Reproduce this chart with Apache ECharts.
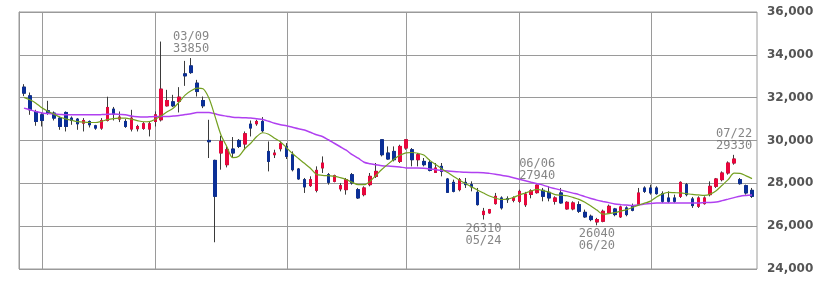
<!DOCTYPE html>
<html><head><meta charset="utf-8">
<script src="https://cdn.jsdelivr.net/npm/echarts@6/dist/echarts.min.js"></script>
<style>html,body{margin:0;padding:0;background:#fff}#c{width:828px;height:281px}</style>
</head><body><div id="c"></div>
<script>
const dates = ['01/27','01/28','01/31',
'02/01','02/02','02/03','02/04','02/07','02/08','02/09','02/10','02/11','02/14','02/15','02/16','02/17','02/18','02/21','02/22','02/24','02/25','02/28',
'03/01','03/02','03/03','03/04','03/07','03/08','03/09','03/10','03/11','03/14','03/15','03/16','03/17','03/18','03/22','03/23','03/24','03/25','03/28','03/29','03/30','03/31',
'04/01','04/04','04/05','04/06','04/07','04/08','04/11','04/12','04/13','04/14','04/15','04/18','04/19','04/20','04/21','04/22','04/25','04/26','04/27','04/28',
'05/02','05/06','05/09','05/10','05/11','05/12','05/13','05/16','05/17','05/18','05/19','05/20','05/23','05/24','05/25','05/26','05/27','05/30','05/31',
'06/01','06/02','06/03','06/06','06/07','06/08','06/09','06/10','06/13','06/14','06/15','06/16','06/17','06/20','06/21','06/22','06/23','06/24','06/27','06/28','06/29','06/30',
'07/01','07/04','07/05','07/06','07/07','07/08','07/11','07/12','07/13','07/14','07/15','07/19','07/20','07/21','07/22','07/25','07/26','07/27'];

const opens = [32491,32086,31354,31200,31387,31279,31046,31309,31046,31000,
30811,30889,30688,30578,30935,31465,31000,30889,30534,30548,
30562,30534,30889,30967,31620,31806,31822,33111,33484,32678,
31867,30003,29071,29416,28870,29602,30003,29835,30766,30780,
30889,29490,29336,29616,29724,29336,28670,28171,27892,27673,
28716,28404,28092,27738,27705,28404,27705,27472,27938,28326,
30035,29416,29490,29024,29648,29569,29103,29024,28978,28511,
28793,28204,28046,27705,28046,27938,27579,26540,26618,27053,
27318,27286,27207,27160,27000,27480,27565,27673,27579,27160,
27551,26806,26806,27006,26647,26462,26198,26229,26618,26804,
26433,26852,26960,27006,27784,27784,27784,27519,27318,27318,
27393,27938,27272,26929,27053,27472,27862,28171,28483,28949,
28171,27892,27673];

const closes = [32212,31433,30888,30935,31280,31046,30655,30655,30935,30780,
30935,30734,30578,30935,31543,31232,31093,30655,31046,30655,
30780,30780,31200,32398,31867,31620,32025,33018,33171,32286,
31620,29942,27393,29956,29569,29416,29723,30315,30580,30889,
30455,29024,29416,29849,29257,28637,28204,27831,28171,28606,
28948,28046,28358,27892,28171,28017,27318,27784,28326,28558,
29336,29136,29103,29724,30035,29103,29336,28870,28604,28716,
28558,27579,27626,28171,27938,27831,27006,26696,26773,27393,
26852,27239,27318,27626,27500,27650,27917,27393,27318,27318,
27085,27114,27085,26696,26433,26307,26307,26695,26928,26540,
26899,26540,26741,27551,27626,27551,27519,27160,27160,27160,
28046,27472,26960,27318,27318,27862,28204,28483,28949,29136,
27985,27551,27393];

const lows = [32071,31200,30688,30655,31200,30935,30500,30422,30733,30500,
30422,30609,30500,30500,30890,30935,30860,30590,30422,30422,
30500,30190,30655,30890,31587,31560,31309,32551,33111,32053,
31512,29182,25249,28637,28744,29210,29648,29569,30189,30688,
30376,28558,29182,29490,29136,28558,28171,27551,27831,27579,
28483,27938,28046,27626,27472,27938,27272,27393,27862,28250,
29257,29103,29024,28949,29569,28793,28793,28793,28558,28483,
28325,27551,27579,27626,27784,27626,26960,26310,26587,27006,
26773,27085,27114,27085,26900,27300,27519,27160,27160,27006,
27053,26773,26740,26618,26387,26229,26040,26182,26587,26462,
26387,26462,26695,26960,27551,27472,27472,27085,27085,27085,
27318,27393,26852,26852,27006,27393,27784,28092,28404,28870,
27938,27472,27318];

const highs = [32630,32240,31433,31309,31853,31356,31123,31356,31123,31046,
31046,30935,30733,31046,32044,31567,31356,31000,31433,30733,
30858,30889,31356,34620,32365,32132,32491,33717,33850,32831,
32053,30967,29103,30222,29724,30161,30068,30422,30935,30967,
31093,29956,29569,29956,29881,29490,28716,28250,28326,28793,
29257,28483,28404,28017,28250,28483,27784,27862,28483,28949,
30035,29724,29724,29802,30068,29648,29416,29182,29103,28949,
28949,28250,28171,28250,28250,28092,27784,26852,26805,27551,
27393,27393,27393,27705,27600,27720,27940,27784,27862,27393,
27784,27160,27160,27160,26773,26540,26387,26773,27006,26852,
26960,26928,27053,27784,27862,27938,27862,27626,27626,27472,
28092,28017,27365,27393,27393,28092,28250,28558,29024,29330,
28250,27938,27784];

const ma5 = [32016,31899,31745,31526,31363,31233,31097,31013,30944,30883,
30855,30841,30841,30897,30976,31023,31046,31046,30995,30930,
30875,30883,30995,31153,31340,31503,31792,32118,32318,32444,
32412,31969,31140,30268,29709,29196,29266,29616,29872,30184,
30361,30291,30105,29932,29662,29392,29159,28935,28702,28418,
28376,28353,28334,28264,28176,28045,27938,27938,28096,28376,
28656,28898,29122,29308,29420,29439,29406,29318,29072,28875,
28684,28502,28316,28148,27989,27835,27686,27546,27407,27309,
27244,27262,27337,27458,27551,27644,27714,27658,27589,27472,
27444,27421,27342,27253,27113,26936,26750,26563,26587,26633,
26703,26773,26876,26983,27076,27169,27364,27509,27579,27565,
27551,27519,27482,27458,27435,27495,27658,27910,28171,28474,
28465,28348,28218];

const ma25 = [31512,31433,31354,31284,31256,31233,31219,31200,31200,31200,
31200,31200,31200,31209,31223,31233,31214,31200,31140,31107,
31093,31107,31121,31121,31121,31140,31163,31209,31247,31307,
31307,31307,31247,31177,31135,31088,31070,31060,31046,31014,
30981,30897,30804,30734,30687,30617,30547,30487,30384,30268,
30184,30035,29872,29709,29546,29336,29173,28987,28917,28870,
28824,28805,28791,28763,28721,28716,28716,28702,28674,28637,
28604,28581,28558,28535,28516,28511,28511,28497,28465,28427,
28376,28334,28264,28195,28125,28054,27985,27915,27822,27752,
27682,27612,27542,27472,27379,27295,27216,27155,27099,27039,
27006,26983,26960,26983,27029,27062,27081,27086,27086,27086,
27086,27086,27086,27086,27100,27109,27132,27193,27262,27332,
27402,27435,27458];

const monthStarts = ['02/01','03/01','04/01','05/02','06/01','07/01'];
const annDates = ['03/09','05/24','06/06','06/20','07/22'];
const annValues = [33850,26310,27940,26040,29330];
const annSides = ['top','bottom','top','bottom','top'];
const yMin = 24000, yMax = 36000, yStep = 2000;

const UP = '#e8063c', DOWN = '#0b2f96', WICK = '#3a3a3a';
const GRIDC = '#9a9a9a';

const wickData = dates.map((d, i) => [opens[i], closes[i], lows[i], highs[i]]);
const bodyData = dates.map((d, i) => [opens[i], closes[i], Math.min(opens[i], closes[i]), Math.max(opens[i], closes[i])]);

const chart = echarts.init(document.getElementById('c'), null, {renderer: 'canvas'});
chart.setOption({
  animation: false,
  backgroundColor: '#fff',
  grid: [
    {left: 19, top: 12, width: 738, height: 257, show: true, borderColor: GRIDC, borderWidth: 1, backgroundColor: 'transparent'},
    {left: 21, top: 12, width: 734, height: 257}
  ],
  xAxis: [
    {gridIndex: 0, type: 'value', min: 0, max: 1, show: false},
    {gridIndex: 1, type: 'category', data: dates, boundaryGap: true, show: false}
  ],
  yAxis: [
    {gridIndex: 0, type: 'value', position: 'right', min: yMin, max: yMax, interval: yStep,
     axisLine: {show: true, lineStyle: {color: GRIDC, width: 1}},
     axisTick: {show: true, length: 4, lineStyle: {color: GRIDC}},
     axisLabel: {margin: 10, color: '#555', fontFamily: 'DejaVu Sans', fontWeight: 'bold', fontSize: 12},
     splitLine: {show: true, lineStyle: {color: GRIDC, width: 1}}},
    {gridIndex: 1, type: 'value', min: yMin, max: yMax, show: false}
  ],
  series: [
    {type: 'custom', name: 'monthLines', xAxisIndex: 1, yAxisIndex: 1, z: 1, silent: true,
     data: monthStarts.map(m => [m, yMin, yMax]),
     renderItem: function (params, api) {
       const p0 = api.coord([api.value(0), api.value(1)]);
       const p1 = api.coord([api.value(0), api.value(2)]);
       const x = Math.round(p0[0]) + 0.5;
       return {type: 'line', shape: {x1: x, y1: p0[1], x2: x, y2: p1[1]},
               style: {stroke: GRIDC, lineWidth: 1}};
     }},
    {type: 'candlestick', name: 'wick', xAxisIndex: 1, yAxisIndex: 1, data: wickData, barWidth: 3, z: 2,
     itemStyle: {color: WICK, color0: WICK, borderColor: WICK, borderColor0: WICK, borderWidth: 1}},
    {type: 'candlestick', name: 'body', xAxisIndex: 1, yAxisIndex: 1, data: bodyData, barWidth: 3, z: 3,
     itemStyle: {color: UP, color0: DOWN, borderColor: UP, borderColor0: DOWN, borderWidth: 1}},
    {type: 'line', name: 'MA25', xAxisIndex: 1, yAxisIndex: 1, data: ma25, symbol: 'none', smooth: 0.3, z: 4,
     lineStyle: {color: '#b040f0', width: 1.5}},
    {type: 'line', name: 'MA5', xAxisIndex: 1, yAxisIndex: 1, data: ma5, symbol: 'none', smooth: 0.3, z: 5,
     lineStyle: {color: '#74a020', width: 1.2}},
    {type: 'scatter', name: 'ann', xAxisIndex: 1, yAxisIndex: 1, symbolSize: 0.1, z: 6,
     itemStyle: {color: 'transparent'},
     data: annDates.map((d, i) => ({
       value: [d, annValues[i]],
       label: {show: true, position: annSides[i], distance: 3,
         formatter: annSides[i] === 'top' ? d + '\n' + annValues[i] : annValues[i] + '\n' + d}
     })),
     label: {color: '#666', fontFamily: 'DejaVu Sans Mono', fontSize: 12, lineHeight: 12, align: 'center'}}
  ]
});
</script></body></html>
